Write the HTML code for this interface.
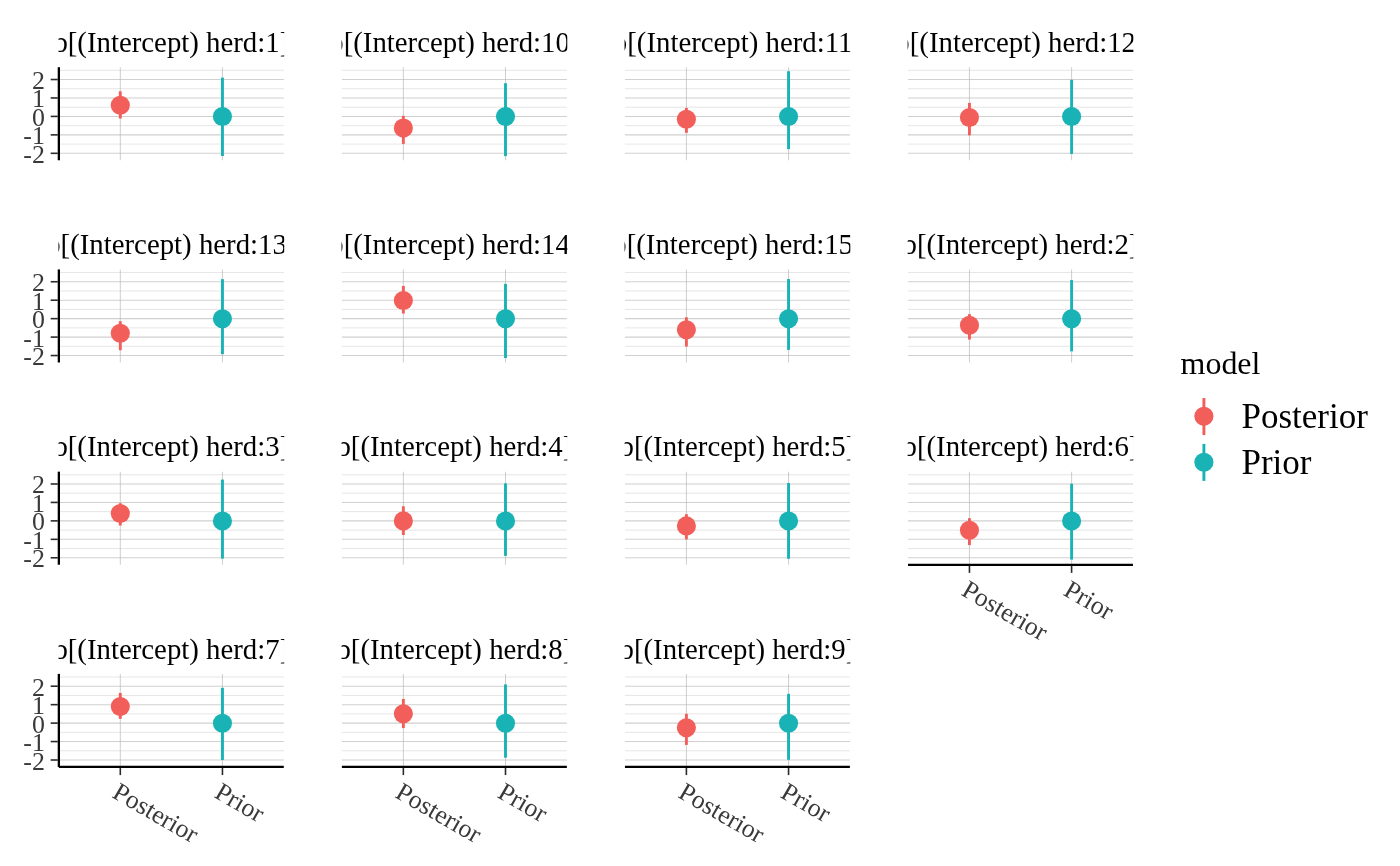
<!DOCTYPE html>
<html lang="en"><head><meta charset="utf-8"><title>Prior vs Posterior</title>
<style>html,body{margin:0;padding:0;background:#fff}svg{display:block}text{font-family:"Liberation Serif",serif}</style></head><body>
<svg width="1400" height="866" viewBox="0 0 1400 866">
<rect width="1400" height="866" fill="#fff"/>
<defs>
<clipPath id="c00"><rect x="58.45" y="17.30" width="225.75" height="50"/></clipPath>
<clipPath id="c10"><rect x="58.45" y="219.53" width="225.75" height="50"/></clipPath>
<clipPath id="c20"><rect x="58.45" y="421.76" width="225.75" height="50"/></clipPath>
<clipPath id="c30"><rect x="58.45" y="623.99" width="225.75" height="50"/></clipPath>
<clipPath id="c01"><rect x="341.50" y="17.30" width="225.75" height="50"/></clipPath>
<clipPath id="c11"><rect x="341.50" y="219.53" width="225.75" height="50"/></clipPath>
<clipPath id="c21"><rect x="341.50" y="421.76" width="225.75" height="50"/></clipPath>
<clipPath id="c31"><rect x="341.50" y="623.99" width="225.75" height="50"/></clipPath>
<clipPath id="c02"><rect x="624.55" y="17.30" width="225.75" height="50"/></clipPath>
<clipPath id="c12"><rect x="624.55" y="219.53" width="225.75" height="50"/></clipPath>
<clipPath id="c22"><rect x="624.55" y="421.76" width="225.75" height="50"/></clipPath>
<clipPath id="c32"><rect x="624.55" y="623.99" width="225.75" height="50"/></clipPath>
<clipPath id="c03"><rect x="907.60" y="17.30" width="225.75" height="50"/></clipPath>
<clipPath id="c13"><rect x="907.60" y="219.53" width="225.75" height="50"/></clipPath>
<clipPath id="c23"><rect x="907.60" y="421.76" width="225.75" height="50"/></clipPath>
<clipPath id="c33"><rect x="907.60" y="623.99" width="225.75" height="50"/></clipPath>
</defs>
<g>
<g clip-path="url(#c00)"><text x="171.32" y="51.90" font-size="28.8" text-anchor="middle" fill="#000">b[(Intercept) herd:1]</text></g>
<line x1="58.85" x2="283.80" y1="153.32" y2="153.32" stroke="#d0d0d0" stroke-width="1.07"/>
<line x1="58.85" x2="283.80" y1="144.09" y2="144.09" stroke="#d2d2d2" stroke-width="0.55"/>
<line x1="58.85" x2="283.80" y1="134.87" y2="134.87" stroke="#d0d0d0" stroke-width="1.07"/>
<line x1="58.85" x2="283.80" y1="125.64" y2="125.64" stroke="#d2d2d2" stroke-width="0.55"/>
<line x1="58.85" x2="283.80" y1="116.42" y2="116.42" stroke="#d0d0d0" stroke-width="1.07"/>
<line x1="58.85" x2="283.80" y1="107.19" y2="107.19" stroke="#d2d2d2" stroke-width="0.55"/>
<line x1="58.85" x2="283.80" y1="97.97" y2="97.97" stroke="#d0d0d0" stroke-width="1.07"/>
<line x1="58.85" x2="283.80" y1="88.74" y2="88.74" stroke="#d2d2d2" stroke-width="0.55"/>
<line x1="58.85" x2="283.80" y1="79.52" y2="79.52" stroke="#d0d0d0" stroke-width="1.07"/>
<line x1="58.85" x2="283.80" y1="70.29" y2="70.29" stroke="#d2d2d2" stroke-width="0.55"/>
<line x1="120.30" x2="120.30" y1="67.30" y2="160.25" stroke="#b8b8b8" stroke-width="0.7"/>
<line x1="222.45" x2="222.45" y1="67.30" y2="160.25" stroke="#b8b8b8" stroke-width="0.7"/>
<line x1="120.30" x2="120.30" y1="91.32" y2="118.52" stroke="#F25E5A" stroke-width="2.9"/>
<circle cx="120.30" cy="105.32" r="9.55" fill="#F25E5A"/>
<line x1="222.45" x2="222.45" y1="77.62" y2="156.02" stroke="#19B2B5" stroke-width="2.9"/>
<circle cx="222.45" cy="116.52" r="9.55" fill="#19B2B5"/>
<line x1="58.85" x2="58.85" y1="67.20" y2="160.25" stroke="#000" stroke-width="2.3"/>
<line x1="50.70" x2="57.85" y1="153.32" y2="153.32" stroke="#2b2b2b" stroke-width="1.6"/>
<text x="44.85" y="162.82" font-size="25.9" text-anchor="end" fill="#3a3a3a">-2</text>
<line x1="50.70" x2="57.85" y1="134.87" y2="134.87" stroke="#2b2b2b" stroke-width="1.6"/>
<text x="44.85" y="144.37" font-size="25.9" text-anchor="end" fill="#3a3a3a">-1</text>
<line x1="50.70" x2="57.85" y1="116.42" y2="116.42" stroke="#2b2b2b" stroke-width="1.6"/>
<text x="44.85" y="125.92" font-size="25.9" text-anchor="end" fill="#3a3a3a">0</text>
<line x1="50.70" x2="57.85" y1="97.97" y2="97.97" stroke="#2b2b2b" stroke-width="1.6"/>
<text x="44.85" y="107.47" font-size="25.9" text-anchor="end" fill="#3a3a3a">1</text>
<line x1="50.70" x2="57.85" y1="79.52" y2="79.52" stroke="#2b2b2b" stroke-width="1.6"/>
<text x="44.85" y="89.02" font-size="25.9" text-anchor="end" fill="#3a3a3a">2</text>
</g>
<g>
<g clip-path="url(#c01)"><text x="454.38" y="51.90" font-size="28.8" text-anchor="middle" fill="#000">b[(Intercept) herd:10]</text></g>
<line x1="341.90" x2="566.85" y1="153.32" y2="153.32" stroke="#d0d0d0" stroke-width="1.07"/>
<line x1="341.90" x2="566.85" y1="144.09" y2="144.09" stroke="#d2d2d2" stroke-width="0.55"/>
<line x1="341.90" x2="566.85" y1="134.87" y2="134.87" stroke="#d0d0d0" stroke-width="1.07"/>
<line x1="341.90" x2="566.85" y1="125.64" y2="125.64" stroke="#d2d2d2" stroke-width="0.55"/>
<line x1="341.90" x2="566.85" y1="116.42" y2="116.42" stroke="#d0d0d0" stroke-width="1.07"/>
<line x1="341.90" x2="566.85" y1="107.19" y2="107.19" stroke="#d2d2d2" stroke-width="0.55"/>
<line x1="341.90" x2="566.85" y1="97.97" y2="97.97" stroke="#d0d0d0" stroke-width="1.07"/>
<line x1="341.90" x2="566.85" y1="88.74" y2="88.74" stroke="#d2d2d2" stroke-width="0.55"/>
<line x1="341.90" x2="566.85" y1="79.52" y2="79.52" stroke="#d0d0d0" stroke-width="1.07"/>
<line x1="341.90" x2="566.85" y1="70.29" y2="70.29" stroke="#d2d2d2" stroke-width="0.55"/>
<line x1="403.35" x2="403.35" y1="67.30" y2="160.25" stroke="#b8b8b8" stroke-width="0.7"/>
<line x1="505.50" x2="505.50" y1="67.30" y2="160.25" stroke="#b8b8b8" stroke-width="0.7"/>
<line x1="403.35" x2="403.35" y1="115.82" y2="143.92" stroke="#F25E5A" stroke-width="2.9"/>
<circle cx="403.35" cy="128.12" r="9.55" fill="#F25E5A"/>
<line x1="505.50" x2="505.50" y1="83.22" y2="156.12" stroke="#19B2B5" stroke-width="2.9"/>
<circle cx="505.50" cy="116.52" r="9.55" fill="#19B2B5"/>
</g>
<g>
<g clip-path="url(#c02)"><text x="737.43" y="51.90" font-size="28.8" text-anchor="middle" fill="#000">b[(Intercept) herd:11]</text></g>
<line x1="624.95" x2="849.90" y1="153.32" y2="153.32" stroke="#d0d0d0" stroke-width="1.07"/>
<line x1="624.95" x2="849.90" y1="144.09" y2="144.09" stroke="#d2d2d2" stroke-width="0.55"/>
<line x1="624.95" x2="849.90" y1="134.87" y2="134.87" stroke="#d0d0d0" stroke-width="1.07"/>
<line x1="624.95" x2="849.90" y1="125.64" y2="125.64" stroke="#d2d2d2" stroke-width="0.55"/>
<line x1="624.95" x2="849.90" y1="116.42" y2="116.42" stroke="#d0d0d0" stroke-width="1.07"/>
<line x1="624.95" x2="849.90" y1="107.19" y2="107.19" stroke="#d2d2d2" stroke-width="0.55"/>
<line x1="624.95" x2="849.90" y1="97.97" y2="97.97" stroke="#d0d0d0" stroke-width="1.07"/>
<line x1="624.95" x2="849.90" y1="88.74" y2="88.74" stroke="#d2d2d2" stroke-width="0.55"/>
<line x1="624.95" x2="849.90" y1="79.52" y2="79.52" stroke="#d0d0d0" stroke-width="1.07"/>
<line x1="624.95" x2="849.90" y1="70.29" y2="70.29" stroke="#d2d2d2" stroke-width="0.55"/>
<line x1="686.40" x2="686.40" y1="67.30" y2="160.25" stroke="#b8b8b8" stroke-width="0.7"/>
<line x1="788.55" x2="788.55" y1="67.30" y2="160.25" stroke="#b8b8b8" stroke-width="0.7"/>
<line x1="686.40" x2="686.40" y1="107.92" y2="132.82" stroke="#F25E5A" stroke-width="2.9"/>
<circle cx="686.40" cy="119.22" r="9.55" fill="#F25E5A"/>
<line x1="788.55" x2="788.55" y1="71.22" y2="149.12" stroke="#19B2B5" stroke-width="2.9"/>
<circle cx="788.55" cy="116.52" r="9.55" fill="#19B2B5"/>
</g>
<g>
<g clip-path="url(#c03)"><text x="1020.48" y="51.90" font-size="28.8" text-anchor="middle" fill="#000">b[(Intercept) herd:12]</text></g>
<line x1="908.00" x2="1132.95" y1="153.32" y2="153.32" stroke="#d0d0d0" stroke-width="1.07"/>
<line x1="908.00" x2="1132.95" y1="144.09" y2="144.09" stroke="#d2d2d2" stroke-width="0.55"/>
<line x1="908.00" x2="1132.95" y1="134.87" y2="134.87" stroke="#d0d0d0" stroke-width="1.07"/>
<line x1="908.00" x2="1132.95" y1="125.64" y2="125.64" stroke="#d2d2d2" stroke-width="0.55"/>
<line x1="908.00" x2="1132.95" y1="116.42" y2="116.42" stroke="#d0d0d0" stroke-width="1.07"/>
<line x1="908.00" x2="1132.95" y1="107.19" y2="107.19" stroke="#d2d2d2" stroke-width="0.55"/>
<line x1="908.00" x2="1132.95" y1="97.97" y2="97.97" stroke="#d0d0d0" stroke-width="1.07"/>
<line x1="908.00" x2="1132.95" y1="88.74" y2="88.74" stroke="#d2d2d2" stroke-width="0.55"/>
<line x1="908.00" x2="1132.95" y1="79.52" y2="79.52" stroke="#d0d0d0" stroke-width="1.07"/>
<line x1="908.00" x2="1132.95" y1="70.29" y2="70.29" stroke="#d2d2d2" stroke-width="0.55"/>
<line x1="969.45" x2="969.45" y1="67.30" y2="160.25" stroke="#b8b8b8" stroke-width="0.7"/>
<line x1="1071.60" x2="1071.60" y1="67.30" y2="160.25" stroke="#b8b8b8" stroke-width="0.7"/>
<line x1="969.45" x2="969.45" y1="102.92" y2="135.32" stroke="#F25E5A" stroke-width="2.9"/>
<circle cx="969.45" cy="117.52" r="9.55" fill="#F25E5A"/>
<line x1="1071.60" x2="1071.60" y1="79.82" y2="153.92" stroke="#19B2B5" stroke-width="2.9"/>
<circle cx="1071.60" cy="116.52" r="9.55" fill="#19B2B5"/>
</g>
<g>
<g clip-path="url(#c10)"><text x="171.32" y="254.13" font-size="28.8" text-anchor="middle" fill="#000">b[(Intercept) herd:13]</text></g>
<line x1="58.85" x2="283.80" y1="355.55" y2="355.55" stroke="#d0d0d0" stroke-width="1.07"/>
<line x1="58.85" x2="283.80" y1="346.32" y2="346.32" stroke="#d2d2d2" stroke-width="0.55"/>
<line x1="58.85" x2="283.80" y1="337.10" y2="337.10" stroke="#d0d0d0" stroke-width="1.07"/>
<line x1="58.85" x2="283.80" y1="327.88" y2="327.88" stroke="#d2d2d2" stroke-width="0.55"/>
<line x1="58.85" x2="283.80" y1="318.65" y2="318.65" stroke="#d0d0d0" stroke-width="1.07"/>
<line x1="58.85" x2="283.80" y1="309.42" y2="309.42" stroke="#d2d2d2" stroke-width="0.55"/>
<line x1="58.85" x2="283.80" y1="300.20" y2="300.20" stroke="#d0d0d0" stroke-width="1.07"/>
<line x1="58.85" x2="283.80" y1="290.97" y2="290.97" stroke="#d2d2d2" stroke-width="0.55"/>
<line x1="58.85" x2="283.80" y1="281.75" y2="281.75" stroke="#d0d0d0" stroke-width="1.07"/>
<line x1="58.85" x2="283.80" y1="272.52" y2="272.52" stroke="#d2d2d2" stroke-width="0.55"/>
<line x1="120.30" x2="120.30" y1="269.53" y2="362.48" stroke="#b8b8b8" stroke-width="0.7"/>
<line x1="222.45" x2="222.45" y1="269.53" y2="362.48" stroke="#b8b8b8" stroke-width="0.7"/>
<line x1="120.30" x2="120.30" y1="321.25" y2="350.25" stroke="#F25E5A" stroke-width="2.9"/>
<circle cx="120.30" cy="333.25" r="9.55" fill="#F25E5A"/>
<line x1="222.45" x2="222.45" y1="279.15" y2="354.15" stroke="#19B2B5" stroke-width="2.9"/>
<circle cx="222.45" cy="318.75" r="9.55" fill="#19B2B5"/>
<line x1="58.85" x2="58.85" y1="269.43" y2="362.48" stroke="#000" stroke-width="2.3"/>
<line x1="50.70" x2="57.85" y1="355.55" y2="355.55" stroke="#2b2b2b" stroke-width="1.6"/>
<text x="44.85" y="365.05" font-size="25.9" text-anchor="end" fill="#3a3a3a">-2</text>
<line x1="50.70" x2="57.85" y1="337.10" y2="337.10" stroke="#2b2b2b" stroke-width="1.6"/>
<text x="44.85" y="346.60" font-size="25.9" text-anchor="end" fill="#3a3a3a">-1</text>
<line x1="50.70" x2="57.85" y1="318.65" y2="318.65" stroke="#2b2b2b" stroke-width="1.6"/>
<text x="44.85" y="328.15" font-size="25.9" text-anchor="end" fill="#3a3a3a">0</text>
<line x1="50.70" x2="57.85" y1="300.20" y2="300.20" stroke="#2b2b2b" stroke-width="1.6"/>
<text x="44.85" y="309.70" font-size="25.9" text-anchor="end" fill="#3a3a3a">1</text>
<line x1="50.70" x2="57.85" y1="281.75" y2="281.75" stroke="#2b2b2b" stroke-width="1.6"/>
<text x="44.85" y="291.25" font-size="25.9" text-anchor="end" fill="#3a3a3a">2</text>
</g>
<g>
<g clip-path="url(#c11)"><text x="454.38" y="254.13" font-size="28.8" text-anchor="middle" fill="#000">b[(Intercept) herd:14]</text></g>
<line x1="341.90" x2="566.85" y1="355.55" y2="355.55" stroke="#d0d0d0" stroke-width="1.07"/>
<line x1="341.90" x2="566.85" y1="346.32" y2="346.32" stroke="#d2d2d2" stroke-width="0.55"/>
<line x1="341.90" x2="566.85" y1="337.10" y2="337.10" stroke="#d0d0d0" stroke-width="1.07"/>
<line x1="341.90" x2="566.85" y1="327.88" y2="327.88" stroke="#d2d2d2" stroke-width="0.55"/>
<line x1="341.90" x2="566.85" y1="318.65" y2="318.65" stroke="#d0d0d0" stroke-width="1.07"/>
<line x1="341.90" x2="566.85" y1="309.42" y2="309.42" stroke="#d2d2d2" stroke-width="0.55"/>
<line x1="341.90" x2="566.85" y1="300.20" y2="300.20" stroke="#d0d0d0" stroke-width="1.07"/>
<line x1="341.90" x2="566.85" y1="290.97" y2="290.97" stroke="#d2d2d2" stroke-width="0.55"/>
<line x1="341.90" x2="566.85" y1="281.75" y2="281.75" stroke="#d0d0d0" stroke-width="1.07"/>
<line x1="341.90" x2="566.85" y1="272.52" y2="272.52" stroke="#d2d2d2" stroke-width="0.55"/>
<line x1="403.35" x2="403.35" y1="269.53" y2="362.48" stroke="#b8b8b8" stroke-width="0.7"/>
<line x1="505.50" x2="505.50" y1="269.53" y2="362.48" stroke="#b8b8b8" stroke-width="0.7"/>
<line x1="403.35" x2="403.35" y1="285.95" y2="313.55" stroke="#F25E5A" stroke-width="2.9"/>
<circle cx="403.35" cy="300.45" r="9.55" fill="#F25E5A"/>
<line x1="505.50" x2="505.50" y1="283.85" y2="358.05" stroke="#19B2B5" stroke-width="2.9"/>
<circle cx="505.50" cy="318.75" r="9.55" fill="#19B2B5"/>
</g>
<g>
<g clip-path="url(#c12)"><text x="737.43" y="254.13" font-size="28.8" text-anchor="middle" fill="#000">b[(Intercept) herd:15]</text></g>
<line x1="624.95" x2="849.90" y1="355.55" y2="355.55" stroke="#d0d0d0" stroke-width="1.07"/>
<line x1="624.95" x2="849.90" y1="346.32" y2="346.32" stroke="#d2d2d2" stroke-width="0.55"/>
<line x1="624.95" x2="849.90" y1="337.10" y2="337.10" stroke="#d0d0d0" stroke-width="1.07"/>
<line x1="624.95" x2="849.90" y1="327.88" y2="327.88" stroke="#d2d2d2" stroke-width="0.55"/>
<line x1="624.95" x2="849.90" y1="318.65" y2="318.65" stroke="#d0d0d0" stroke-width="1.07"/>
<line x1="624.95" x2="849.90" y1="309.42" y2="309.42" stroke="#d2d2d2" stroke-width="0.55"/>
<line x1="624.95" x2="849.90" y1="300.20" y2="300.20" stroke="#d0d0d0" stroke-width="1.07"/>
<line x1="624.95" x2="849.90" y1="290.97" y2="290.97" stroke="#d2d2d2" stroke-width="0.55"/>
<line x1="624.95" x2="849.90" y1="281.75" y2="281.75" stroke="#d0d0d0" stroke-width="1.07"/>
<line x1="624.95" x2="849.90" y1="272.52" y2="272.52" stroke="#d2d2d2" stroke-width="0.55"/>
<line x1="686.40" x2="686.40" y1="269.53" y2="362.48" stroke="#b8b8b8" stroke-width="0.7"/>
<line x1="788.55" x2="788.55" y1="269.53" y2="362.48" stroke="#b8b8b8" stroke-width="0.7"/>
<line x1="686.40" x2="686.40" y1="317.25" y2="346.55" stroke="#F25E5A" stroke-width="2.9"/>
<circle cx="686.40" cy="329.75" r="9.55" fill="#F25E5A"/>
<line x1="788.55" x2="788.55" y1="279.05" y2="349.85" stroke="#19B2B5" stroke-width="2.9"/>
<circle cx="788.55" cy="318.75" r="9.55" fill="#19B2B5"/>
</g>
<g>
<g clip-path="url(#c13)"><text x="1020.48" y="254.13" font-size="28.8" text-anchor="middle" fill="#000">b[(Intercept) herd:2]</text></g>
<line x1="908.00" x2="1132.95" y1="355.55" y2="355.55" stroke="#d0d0d0" stroke-width="1.07"/>
<line x1="908.00" x2="1132.95" y1="346.32" y2="346.32" stroke="#d2d2d2" stroke-width="0.55"/>
<line x1="908.00" x2="1132.95" y1="337.10" y2="337.10" stroke="#d0d0d0" stroke-width="1.07"/>
<line x1="908.00" x2="1132.95" y1="327.88" y2="327.88" stroke="#d2d2d2" stroke-width="0.55"/>
<line x1="908.00" x2="1132.95" y1="318.65" y2="318.65" stroke="#d0d0d0" stroke-width="1.07"/>
<line x1="908.00" x2="1132.95" y1="309.42" y2="309.42" stroke="#d2d2d2" stroke-width="0.55"/>
<line x1="908.00" x2="1132.95" y1="300.20" y2="300.20" stroke="#d0d0d0" stroke-width="1.07"/>
<line x1="908.00" x2="1132.95" y1="290.97" y2="290.97" stroke="#d2d2d2" stroke-width="0.55"/>
<line x1="908.00" x2="1132.95" y1="281.75" y2="281.75" stroke="#d0d0d0" stroke-width="1.07"/>
<line x1="908.00" x2="1132.95" y1="272.52" y2="272.52" stroke="#d2d2d2" stroke-width="0.55"/>
<line x1="969.45" x2="969.45" y1="269.53" y2="362.48" stroke="#b8b8b8" stroke-width="0.7"/>
<line x1="1071.60" x2="1071.60" y1="269.53" y2="362.48" stroke="#b8b8b8" stroke-width="0.7"/>
<line x1="969.45" x2="969.45" y1="314.15" y2="339.55" stroke="#F25E5A" stroke-width="2.9"/>
<circle cx="969.45" cy="325.35" r="9.55" fill="#F25E5A"/>
<line x1="1071.60" x2="1071.60" y1="280.05" y2="351.35" stroke="#19B2B5" stroke-width="2.9"/>
<circle cx="1071.60" cy="318.75" r="9.55" fill="#19B2B5"/>
</g>
<g>
<g clip-path="url(#c20)"><text x="171.32" y="456.36" font-size="28.8" text-anchor="middle" fill="#000">b[(Intercept) herd:3]</text></g>
<line x1="58.85" x2="283.80" y1="557.78" y2="557.78" stroke="#d0d0d0" stroke-width="1.07"/>
<line x1="58.85" x2="283.80" y1="548.55" y2="548.55" stroke="#d2d2d2" stroke-width="0.55"/>
<line x1="58.85" x2="283.80" y1="539.33" y2="539.33" stroke="#d0d0d0" stroke-width="1.07"/>
<line x1="58.85" x2="283.80" y1="530.11" y2="530.11" stroke="#d2d2d2" stroke-width="0.55"/>
<line x1="58.85" x2="283.80" y1="520.88" y2="520.88" stroke="#d0d0d0" stroke-width="1.07"/>
<line x1="58.85" x2="283.80" y1="511.65" y2="511.65" stroke="#d2d2d2" stroke-width="0.55"/>
<line x1="58.85" x2="283.80" y1="502.43" y2="502.43" stroke="#d0d0d0" stroke-width="1.07"/>
<line x1="58.85" x2="283.80" y1="493.20" y2="493.20" stroke="#d2d2d2" stroke-width="0.55"/>
<line x1="58.85" x2="283.80" y1="483.98" y2="483.98" stroke="#d0d0d0" stroke-width="1.07"/>
<line x1="58.85" x2="283.80" y1="474.75" y2="474.75" stroke="#d2d2d2" stroke-width="0.55"/>
<line x1="120.30" x2="120.30" y1="471.76" y2="564.71" stroke="#b8b8b8" stroke-width="0.7"/>
<line x1="222.45" x2="222.45" y1="471.76" y2="564.71" stroke="#b8b8b8" stroke-width="0.7"/>
<line x1="120.30" x2="120.30" y1="503.18" y2="525.48" stroke="#F25E5A" stroke-width="2.9"/>
<circle cx="120.30" cy="513.48" r="9.55" fill="#F25E5A"/>
<line x1="222.45" x2="222.45" y1="479.58" y2="558.58" stroke="#19B2B5" stroke-width="2.9"/>
<circle cx="222.45" cy="520.98" r="9.55" fill="#19B2B5"/>
<line x1="58.85" x2="58.85" y1="471.66" y2="564.71" stroke="#000" stroke-width="2.3"/>
<line x1="50.70" x2="57.85" y1="557.78" y2="557.78" stroke="#2b2b2b" stroke-width="1.6"/>
<text x="44.85" y="567.28" font-size="25.9" text-anchor="end" fill="#3a3a3a">-2</text>
<line x1="50.70" x2="57.85" y1="539.33" y2="539.33" stroke="#2b2b2b" stroke-width="1.6"/>
<text x="44.85" y="548.83" font-size="25.9" text-anchor="end" fill="#3a3a3a">-1</text>
<line x1="50.70" x2="57.85" y1="520.88" y2="520.88" stroke="#2b2b2b" stroke-width="1.6"/>
<text x="44.85" y="530.38" font-size="25.9" text-anchor="end" fill="#3a3a3a">0</text>
<line x1="50.70" x2="57.85" y1="502.43" y2="502.43" stroke="#2b2b2b" stroke-width="1.6"/>
<text x="44.85" y="511.93" font-size="25.9" text-anchor="end" fill="#3a3a3a">1</text>
<line x1="50.70" x2="57.85" y1="483.98" y2="483.98" stroke="#2b2b2b" stroke-width="1.6"/>
<text x="44.85" y="493.48" font-size="25.9" text-anchor="end" fill="#3a3a3a">2</text>
</g>
<g>
<g clip-path="url(#c21)"><text x="454.38" y="456.36" font-size="28.8" text-anchor="middle" fill="#000">b[(Intercept) herd:4]</text></g>
<line x1="341.90" x2="566.85" y1="557.78" y2="557.78" stroke="#d0d0d0" stroke-width="1.07"/>
<line x1="341.90" x2="566.85" y1="548.55" y2="548.55" stroke="#d2d2d2" stroke-width="0.55"/>
<line x1="341.90" x2="566.85" y1="539.33" y2="539.33" stroke="#d0d0d0" stroke-width="1.07"/>
<line x1="341.90" x2="566.85" y1="530.11" y2="530.11" stroke="#d2d2d2" stroke-width="0.55"/>
<line x1="341.90" x2="566.85" y1="520.88" y2="520.88" stroke="#d0d0d0" stroke-width="1.07"/>
<line x1="341.90" x2="566.85" y1="511.65" y2="511.65" stroke="#d2d2d2" stroke-width="0.55"/>
<line x1="341.90" x2="566.85" y1="502.43" y2="502.43" stroke="#d0d0d0" stroke-width="1.07"/>
<line x1="341.90" x2="566.85" y1="493.20" y2="493.20" stroke="#d2d2d2" stroke-width="0.55"/>
<line x1="341.90" x2="566.85" y1="483.98" y2="483.98" stroke="#d0d0d0" stroke-width="1.07"/>
<line x1="341.90" x2="566.85" y1="474.75" y2="474.75" stroke="#d2d2d2" stroke-width="0.55"/>
<line x1="403.35" x2="403.35" y1="471.76" y2="564.71" stroke="#b8b8b8" stroke-width="0.7"/>
<line x1="505.50" x2="505.50" y1="471.76" y2="564.71" stroke="#b8b8b8" stroke-width="0.7"/>
<line x1="403.35" x2="403.35" y1="506.28" y2="534.98" stroke="#F25E5A" stroke-width="2.9"/>
<circle cx="403.35" cy="520.88" r="9.55" fill="#F25E5A"/>
<line x1="505.50" x2="505.50" y1="483.38" y2="555.88" stroke="#19B2B5" stroke-width="2.9"/>
<circle cx="505.50" cy="520.98" r="9.55" fill="#19B2B5"/>
</g>
<g>
<g clip-path="url(#c22)"><text x="737.43" y="456.36" font-size="28.8" text-anchor="middle" fill="#000">b[(Intercept) herd:5]</text></g>
<line x1="624.95" x2="849.90" y1="557.78" y2="557.78" stroke="#d0d0d0" stroke-width="1.07"/>
<line x1="624.95" x2="849.90" y1="548.55" y2="548.55" stroke="#d2d2d2" stroke-width="0.55"/>
<line x1="624.95" x2="849.90" y1="539.33" y2="539.33" stroke="#d0d0d0" stroke-width="1.07"/>
<line x1="624.95" x2="849.90" y1="530.11" y2="530.11" stroke="#d2d2d2" stroke-width="0.55"/>
<line x1="624.95" x2="849.90" y1="520.88" y2="520.88" stroke="#d0d0d0" stroke-width="1.07"/>
<line x1="624.95" x2="849.90" y1="511.65" y2="511.65" stroke="#d2d2d2" stroke-width="0.55"/>
<line x1="624.95" x2="849.90" y1="502.43" y2="502.43" stroke="#d0d0d0" stroke-width="1.07"/>
<line x1="624.95" x2="849.90" y1="493.20" y2="493.20" stroke="#d2d2d2" stroke-width="0.55"/>
<line x1="624.95" x2="849.90" y1="483.98" y2="483.98" stroke="#d0d0d0" stroke-width="1.07"/>
<line x1="624.95" x2="849.90" y1="474.75" y2="474.75" stroke="#d2d2d2" stroke-width="0.55"/>
<line x1="686.40" x2="686.40" y1="471.76" y2="564.71" stroke="#b8b8b8" stroke-width="0.7"/>
<line x1="788.55" x2="788.55" y1="471.76" y2="564.71" stroke="#b8b8b8" stroke-width="0.7"/>
<line x1="686.40" x2="686.40" y1="514.18" y2="539.38" stroke="#F25E5A" stroke-width="2.9"/>
<circle cx="686.40" cy="525.88" r="9.55" fill="#F25E5A"/>
<line x1="788.55" x2="788.55" y1="482.98" y2="558.78" stroke="#19B2B5" stroke-width="2.9"/>
<circle cx="788.55" cy="520.98" r="9.55" fill="#19B2B5"/>
</g>
<g>
<g clip-path="url(#c23)"><text x="1020.48" y="456.36" font-size="28.8" text-anchor="middle" fill="#000">b[(Intercept) herd:6]</text></g>
<line x1="908.00" x2="1132.95" y1="557.78" y2="557.78" stroke="#d0d0d0" stroke-width="1.07"/>
<line x1="908.00" x2="1132.95" y1="548.55" y2="548.55" stroke="#d2d2d2" stroke-width="0.55"/>
<line x1="908.00" x2="1132.95" y1="539.33" y2="539.33" stroke="#d0d0d0" stroke-width="1.07"/>
<line x1="908.00" x2="1132.95" y1="530.11" y2="530.11" stroke="#d2d2d2" stroke-width="0.55"/>
<line x1="908.00" x2="1132.95" y1="520.88" y2="520.88" stroke="#d0d0d0" stroke-width="1.07"/>
<line x1="908.00" x2="1132.95" y1="511.65" y2="511.65" stroke="#d2d2d2" stroke-width="0.55"/>
<line x1="908.00" x2="1132.95" y1="502.43" y2="502.43" stroke="#d0d0d0" stroke-width="1.07"/>
<line x1="908.00" x2="1132.95" y1="493.20" y2="493.20" stroke="#d2d2d2" stroke-width="0.55"/>
<line x1="908.00" x2="1132.95" y1="483.98" y2="483.98" stroke="#d0d0d0" stroke-width="1.07"/>
<line x1="908.00" x2="1132.95" y1="474.75" y2="474.75" stroke="#d2d2d2" stroke-width="0.55"/>
<line x1="969.45" x2="969.45" y1="471.76" y2="564.71" stroke="#b8b8b8" stroke-width="0.7"/>
<line x1="1071.60" x2="1071.60" y1="471.76" y2="564.71" stroke="#b8b8b8" stroke-width="0.7"/>
<line x1="969.45" x2="969.45" y1="518.18" y2="545.08" stroke="#F25E5A" stroke-width="2.9"/>
<circle cx="969.45" cy="530.18" r="9.55" fill="#F25E5A"/>
<line x1="1071.60" x2="1071.60" y1="483.68" y2="559.58" stroke="#19B2B5" stroke-width="2.9"/>
<circle cx="1071.60" cy="520.98" r="9.55" fill="#19B2B5"/>
<line x1="908.00" x2="1132.95" y1="564.91" y2="564.91" stroke="#000" stroke-width="2.3"/>
<line x1="969.45" x2="969.45" y1="565.71" y2="572.86" stroke="#2b2b2b" stroke-width="1.6"/>
<text transform="translate(960.15,594.61) rotate(30)" font-size="25.9" fill="#3a3a3a">Posterior</text>
<line x1="1071.60" x2="1071.60" y1="565.71" y2="572.86" stroke="#2b2b2b" stroke-width="1.6"/>
<text transform="translate(1062.30,594.61) rotate(30)" font-size="25.9" fill="#3a3a3a">Prior</text>
</g>
<g>
<g clip-path="url(#c30)"><text x="171.32" y="658.59" font-size="28.8" text-anchor="middle" fill="#000">b[(Intercept) herd:7]</text></g>
<line x1="58.85" x2="283.80" y1="760.01" y2="760.01" stroke="#d0d0d0" stroke-width="1.07"/>
<line x1="58.85" x2="283.80" y1="750.78" y2="750.78" stroke="#d2d2d2" stroke-width="0.55"/>
<line x1="58.85" x2="283.80" y1="741.56" y2="741.56" stroke="#d0d0d0" stroke-width="1.07"/>
<line x1="58.85" x2="283.80" y1="732.33" y2="732.33" stroke="#d2d2d2" stroke-width="0.55"/>
<line x1="58.85" x2="283.80" y1="723.11" y2="723.11" stroke="#d0d0d0" stroke-width="1.07"/>
<line x1="58.85" x2="283.80" y1="713.88" y2="713.88" stroke="#d2d2d2" stroke-width="0.55"/>
<line x1="58.85" x2="283.80" y1="704.66" y2="704.66" stroke="#d0d0d0" stroke-width="1.07"/>
<line x1="58.85" x2="283.80" y1="695.43" y2="695.43" stroke="#d2d2d2" stroke-width="0.55"/>
<line x1="58.85" x2="283.80" y1="686.21" y2="686.21" stroke="#d0d0d0" stroke-width="1.07"/>
<line x1="58.85" x2="283.80" y1="676.98" y2="676.98" stroke="#d2d2d2" stroke-width="0.55"/>
<line x1="120.30" x2="120.30" y1="673.99" y2="766.94" stroke="#b8b8b8" stroke-width="0.7"/>
<line x1="222.45" x2="222.45" y1="673.99" y2="766.94" stroke="#b8b8b8" stroke-width="0.7"/>
<line x1="120.30" x2="120.30" y1="692.91" y2="718.81" stroke="#F25E5A" stroke-width="2.9"/>
<circle cx="120.30" cy="706.61" r="9.55" fill="#F25E5A"/>
<line x1="222.45" x2="222.45" y1="687.81" y2="760.01" stroke="#19B2B5" stroke-width="2.9"/>
<circle cx="222.45" cy="723.21" r="9.55" fill="#19B2B5"/>
<line x1="58.85" x2="58.85" y1="673.89" y2="766.94" stroke="#000" stroke-width="2.3"/>
<line x1="50.70" x2="57.85" y1="760.01" y2="760.01" stroke="#2b2b2b" stroke-width="1.6"/>
<text x="44.85" y="769.51" font-size="25.9" text-anchor="end" fill="#3a3a3a">-2</text>
<line x1="50.70" x2="57.85" y1="741.56" y2="741.56" stroke="#2b2b2b" stroke-width="1.6"/>
<text x="44.85" y="751.06" font-size="25.9" text-anchor="end" fill="#3a3a3a">-1</text>
<line x1="50.70" x2="57.85" y1="723.11" y2="723.11" stroke="#2b2b2b" stroke-width="1.6"/>
<text x="44.85" y="732.61" font-size="25.9" text-anchor="end" fill="#3a3a3a">0</text>
<line x1="50.70" x2="57.85" y1="704.66" y2="704.66" stroke="#2b2b2b" stroke-width="1.6"/>
<text x="44.85" y="714.16" font-size="25.9" text-anchor="end" fill="#3a3a3a">1</text>
<line x1="50.70" x2="57.85" y1="686.21" y2="686.21" stroke="#2b2b2b" stroke-width="1.6"/>
<text x="44.85" y="695.71" font-size="25.9" text-anchor="end" fill="#3a3a3a">2</text>
<line x1="58.85" x2="283.80" y1="766.94" y2="766.94" stroke="#000" stroke-width="2.3"/>
<line x1="120.30" x2="120.30" y1="767.94" y2="775.09" stroke="#2b2b2b" stroke-width="1.6"/>
<text transform="translate(111.00,796.84) rotate(30)" font-size="25.9" fill="#3a3a3a">Posterior</text>
<line x1="222.45" x2="222.45" y1="767.94" y2="775.09" stroke="#2b2b2b" stroke-width="1.6"/>
<text transform="translate(213.15,796.84) rotate(30)" font-size="25.9" fill="#3a3a3a">Prior</text>
</g>
<g>
<g clip-path="url(#c31)"><text x="454.38" y="658.59" font-size="28.8" text-anchor="middle" fill="#000">b[(Intercept) herd:8]</text></g>
<line x1="341.90" x2="566.85" y1="760.01" y2="760.01" stroke="#d0d0d0" stroke-width="1.07"/>
<line x1="341.90" x2="566.85" y1="750.78" y2="750.78" stroke="#d2d2d2" stroke-width="0.55"/>
<line x1="341.90" x2="566.85" y1="741.56" y2="741.56" stroke="#d0d0d0" stroke-width="1.07"/>
<line x1="341.90" x2="566.85" y1="732.33" y2="732.33" stroke="#d2d2d2" stroke-width="0.55"/>
<line x1="341.90" x2="566.85" y1="723.11" y2="723.11" stroke="#d0d0d0" stroke-width="1.07"/>
<line x1="341.90" x2="566.85" y1="713.88" y2="713.88" stroke="#d2d2d2" stroke-width="0.55"/>
<line x1="341.90" x2="566.85" y1="704.66" y2="704.66" stroke="#d0d0d0" stroke-width="1.07"/>
<line x1="341.90" x2="566.85" y1="695.43" y2="695.43" stroke="#d2d2d2" stroke-width="0.55"/>
<line x1="341.90" x2="566.85" y1="686.21" y2="686.21" stroke="#d0d0d0" stroke-width="1.07"/>
<line x1="341.90" x2="566.85" y1="676.98" y2="676.98" stroke="#d2d2d2" stroke-width="0.55"/>
<line x1="403.35" x2="403.35" y1="673.99" y2="766.94" stroke="#b8b8b8" stroke-width="0.7"/>
<line x1="505.50" x2="505.50" y1="673.99" y2="766.94" stroke="#b8b8b8" stroke-width="0.7"/>
<line x1="403.35" x2="403.35" y1="698.91" y2="728.11" stroke="#F25E5A" stroke-width="2.9"/>
<circle cx="403.35" cy="713.71" r="9.55" fill="#F25E5A"/>
<line x1="505.50" x2="505.50" y1="684.41" y2="757.71" stroke="#19B2B5" stroke-width="2.9"/>
<circle cx="505.50" cy="723.21" r="9.55" fill="#19B2B5"/>
<line x1="341.90" x2="566.85" y1="766.94" y2="766.94" stroke="#000" stroke-width="2.3"/>
<line x1="403.35" x2="403.35" y1="767.94" y2="775.09" stroke="#2b2b2b" stroke-width="1.6"/>
<text transform="translate(394.05,796.84) rotate(30)" font-size="25.9" fill="#3a3a3a">Posterior</text>
<line x1="505.50" x2="505.50" y1="767.94" y2="775.09" stroke="#2b2b2b" stroke-width="1.6"/>
<text transform="translate(496.20,796.84) rotate(30)" font-size="25.9" fill="#3a3a3a">Prior</text>
</g>
<g>
<g clip-path="url(#c32)"><text x="737.43" y="658.59" font-size="28.8" text-anchor="middle" fill="#000">b[(Intercept) herd:9]</text></g>
<line x1="624.95" x2="849.90" y1="760.01" y2="760.01" stroke="#d0d0d0" stroke-width="1.07"/>
<line x1="624.95" x2="849.90" y1="750.78" y2="750.78" stroke="#d2d2d2" stroke-width="0.55"/>
<line x1="624.95" x2="849.90" y1="741.56" y2="741.56" stroke="#d0d0d0" stroke-width="1.07"/>
<line x1="624.95" x2="849.90" y1="732.33" y2="732.33" stroke="#d2d2d2" stroke-width="0.55"/>
<line x1="624.95" x2="849.90" y1="723.11" y2="723.11" stroke="#d0d0d0" stroke-width="1.07"/>
<line x1="624.95" x2="849.90" y1="713.88" y2="713.88" stroke="#d2d2d2" stroke-width="0.55"/>
<line x1="624.95" x2="849.90" y1="704.66" y2="704.66" stroke="#d0d0d0" stroke-width="1.07"/>
<line x1="624.95" x2="849.90" y1="695.43" y2="695.43" stroke="#d2d2d2" stroke-width="0.55"/>
<line x1="624.95" x2="849.90" y1="686.21" y2="686.21" stroke="#d0d0d0" stroke-width="1.07"/>
<line x1="624.95" x2="849.90" y1="676.98" y2="676.98" stroke="#d2d2d2" stroke-width="0.55"/>
<line x1="686.40" x2="686.40" y1="673.99" y2="766.94" stroke="#b8b8b8" stroke-width="0.7"/>
<line x1="788.55" x2="788.55" y1="673.99" y2="766.94" stroke="#b8b8b8" stroke-width="0.7"/>
<line x1="686.40" x2="686.40" y1="713.81" y2="744.91" stroke="#F25E5A" stroke-width="2.9"/>
<circle cx="686.40" cy="727.71" r="9.55" fill="#F25E5A"/>
<line x1="788.55" x2="788.55" y1="693.81" y2="759.81" stroke="#19B2B5" stroke-width="2.9"/>
<circle cx="788.55" cy="723.21" r="9.55" fill="#19B2B5"/>
<line x1="624.95" x2="849.90" y1="766.94" y2="766.94" stroke="#000" stroke-width="2.3"/>
<line x1="686.40" x2="686.40" y1="767.94" y2="775.09" stroke="#2b2b2b" stroke-width="1.6"/>
<text transform="translate(677.10,796.84) rotate(30)" font-size="25.9" fill="#3a3a3a">Posterior</text>
<line x1="788.55" x2="788.55" y1="767.94" y2="775.09" stroke="#2b2b2b" stroke-width="1.6"/>
<text transform="translate(779.25,796.84) rotate(30)" font-size="25.9" fill="#3a3a3a">Prior</text>
</g>
<text x="1180.6" y="373.6" font-size="31.95" fill="#000">model</text>
<line x1="1203.9" x2="1203.9" y1="398.05" y2="435.05" stroke="#F25E5A" stroke-width="2.9"/>
<circle cx="1203.9" cy="416.35" r="9.55" fill="#F25E5A"/>
<text x="1241.5" y="427.70" font-size="35.0" fill="#000">Posterior</text>
<line x1="1203.9" x2="1203.9" y1="443.90" y2="480.90" stroke="#19B2B5" stroke-width="2.9"/>
<circle cx="1203.9" cy="462.20" r="9.55" fill="#19B2B5"/>
<text x="1241.5" y="473.55" font-size="35.0" fill="#000">Prior</text>
</svg></body></html>
